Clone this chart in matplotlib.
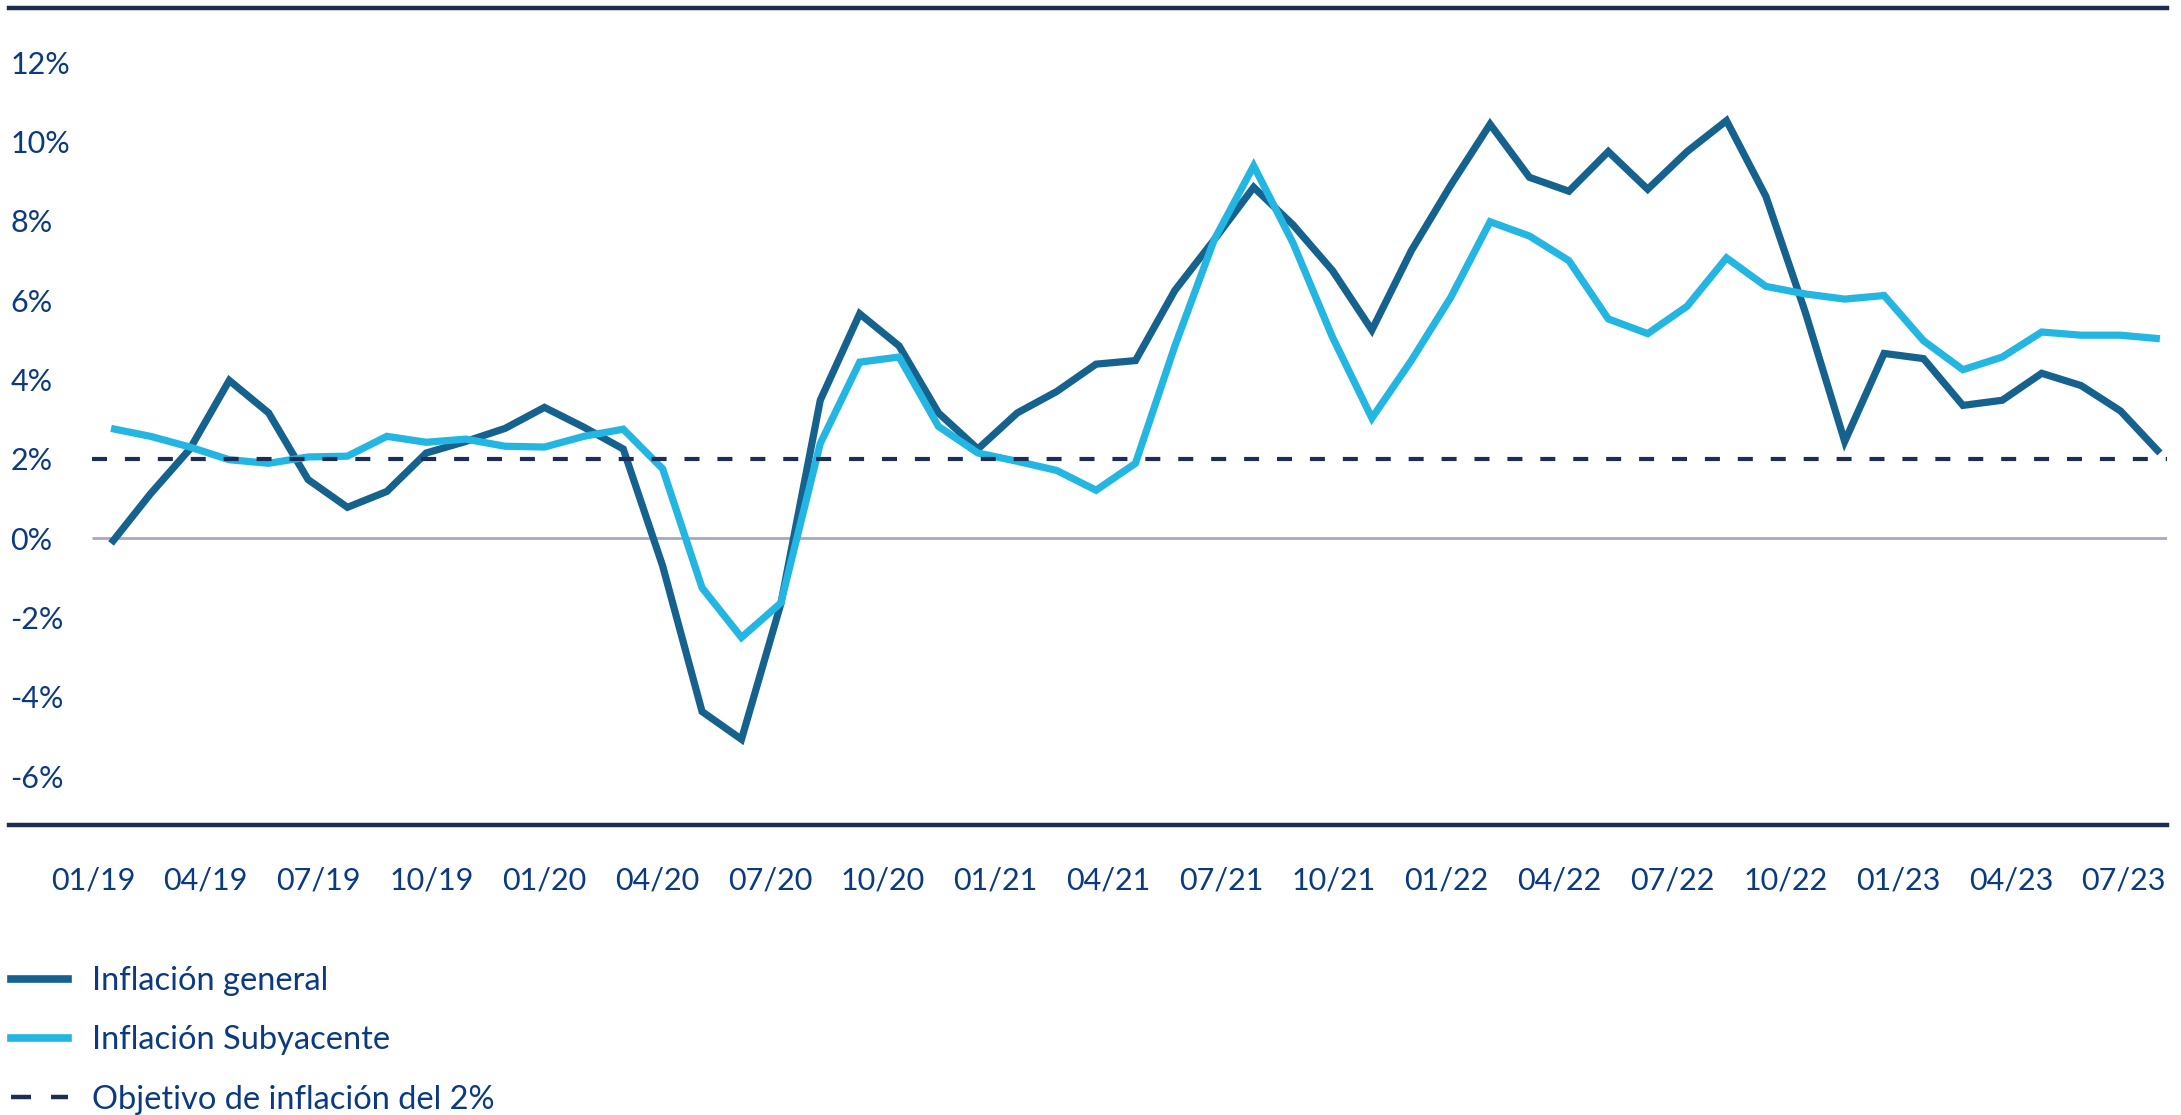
import matplotlib
matplotlib.use("Agg")
import matplotlib.pyplot as plt
import numpy as np
from matplotlib.lines import Line2D

plt.rcParams['font.family'] = ['Lato', 'DejaVu Sans']

# ---- data ----
general = [-0.13, 1.12, 2.25, 3.98, 3.16, 1.48, 0.78, 1.18, 2.15, 2.44, 2.77, 3.3, 2.8, 2.25,
           -0.7, -4.37, -5.07, -1.65,
           3.48, 5.66, 4.85, 3.16, 2.25, 3.16, 3.7, 4.39, 4.48, 6.25, 7.53, 8.85, 7.9, 6.75, 5.25, 7.25,
           8.9, 10.44, 9.1, 8.75, 9.75, 8.8, 9.75, 10.53, 8.62, 5.7, 2.44, 4.66, 4.53, 3.35, 3.48, 4.16,
           3.85, 3.21, 2.15]
core = [2.77, 2.57, 2.3, 1.98, 1.89, 2.05, 2.07, 2.57, 2.42, 2.5, 2.32, 2.3, 2.57, 2.75,
        1.75, -1.25, -2.5, -1.63,
        2.39, 4.44, 4.57, 2.82, 2.15, 1.94, 1.71, 1.21, 1.89, 4.85, 7.53, 9.39, 7.44, 5.07, 3.03, 4.48,
        6.07, 7.98, 7.62, 7.0, 5.53, 5.16, 5.85, 7.07, 6.35, 6.16, 6.03, 6.12, 4.98, 4.25, 4.57, 5.2,
        5.12, 5.12, 5.03]
target = 2.0
x_labels = ['01/19', '04/19', '07/19', '10/19', '01/20', '04/20', '07/20', '10/20', '01/21',
            '04/21', '07/21', '10/21', '01/22', '04/22', '07/22', '10/22', '01/23', '04/23', '07/23']
y_ticks = [-6, -4, -2, 0, 2, 4, 6, 8, 10, 12]
series_names = ['Inflación general', 'Inflación Subyacente', 'Objetivo de inflación del 2%']

# ---- style ----
C_GEN = '#15628F'
C_CORE = '#23B6E2'
C_TARGET = '#1E2D56'
C_SPINE = '#1F2C52'
C_ZERO = '#A9A7C3'
C_TEXT = '#0B3A83'
FS = 22
FS_LEG = 23.5

W, H = 2181, 1115
fig = plt.figure(figsize=(W / 100, H / 100), dpi=100)
left_px, right_px, top_px, bot_px = 9, 2167, 8, 825
ax = fig.add_axes([left_px / W, 1 - bot_px / H, (right_px - left_px) / W, (bot_px - top_px) / H])

x = np.arange(len(general))
xmin, xmax = -2.59, 52.18
line_start = -0.48

ax.hlines(0, line_start, xmax, color=C_ZERO, lw=2, zorder=1)
ax.plot(x, general, color=C_GEN, lw=5.2, solid_joinstyle='miter', solid_capstyle='butt', zorder=3)
ax.plot(x, core, color=C_CORE, lw=5.2, solid_joinstyle='miter', solid_capstyle='butt', zorder=4)
ax.hlines(target, line_start, xmax, color=C_TARGET, lw=3, linestyles=[(0, (3.6, 4.3))], zorder=5)

ax.set_xlim(xmin, xmax)
ax.set_ylim(-7.23, 13.37)

for s in ['left', 'right']:
    ax.spines[s].set_visible(False)
for s in ['top', 'bottom']:
    ax.spines[s].set_color(C_SPINE)
    ax.spines[s].set_linewidth(3.2)

ax.set_yticks(y_ticks)
ax.set_yticklabels([f'{v}%' for v in y_ticks])
for lbl in ax.get_yticklabels():
    lbl.set_horizontalalignment('left')
ax.tick_params(axis='y', length=0, pad=-1, labelsize=FS, labelcolor=C_TEXT)

ax.set_xticks(np.linspace(-0.46, 51.08, len(x_labels)))
ax.set_xticklabels(x_labels)
ax.tick_params(axis='x', length=0, pad=30, labelsize=FS, labelcolor=C_TEXT)

handles = [Line2D([], [], color=C_GEN, lw=5.5),
           Line2D([], [], color=C_CORE, lw=5.5),
           Line2D([], [], color=C_TARGET, lw=3.2, ls=(0, (4.5, 4.5)))]
leg = fig.legend(handles, series_names, loc='upper left', bbox_to_anchor=(11 / W, 1 - 966 / H),
                 frameon=False, fontsize=FS_LEG, handlelength=1.75, handletextpad=0.72,
                 borderpad=0, borderaxespad=0, labelspacing=0.9)
for t in leg.get_texts():
    t.set_color(C_TEXT)

fig.savefig('out.png', dpi=100)
